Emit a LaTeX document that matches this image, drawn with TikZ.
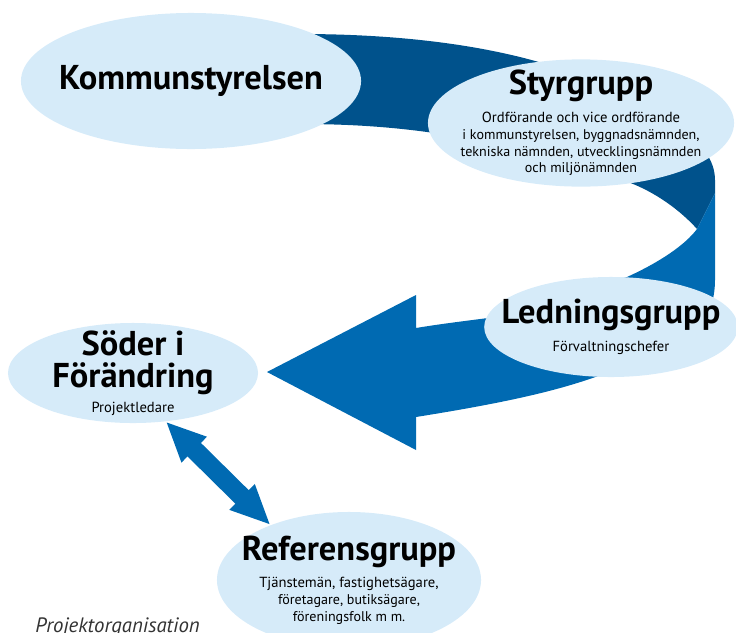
\documentclass[tikz,border=0pt]{standalone}
\usepackage{fontspec}
\setmainfont{PT Sans}
\usepackage{tikz}
\usetikzlibrary{shapes.geometric,arrows.meta}

\definecolor{ribbondark}{RGB}{0,82,140}
\definecolor{ribbonblue}{RGB}{0,106,178}
\definecolor{grpfill}{RGB}{214,235,249}

\newcommand{\grptitle}[1]{{\fontsize{24.5}{21}\selectfont\bfseries #1}}
\newcommand{\grpnote}{\fontsize{10.4}{12.3}\selectfont}

\begin{document}
\begin{tikzpicture}[x=0.025cm, y=-0.025cm,
    grp/.style={ellipse, fill=grpfill, inner sep=-14pt, align=center}]
        \useasboundingbox (0,0) rectangle (736,632);

        \fill [ribbondark]  (300,34) .. controls (420,34) and (520,50) .. (590,80)
                            .. controls (660,110) and (715,140) .. (715,180) -- (715,193)
                            -- (697,229) .. controls (680,210) and (655,192) .. (628,182)
                            -- (560,150) -- (427,132) .. controls (390,127) and (350,124) .. (300,124) -- cycle;
        \fill [ribbonblue]  (715,193) -- (715,280) .. controls (715,340) and (660,360) .. (601,375)
                            .. controls (560,390) and (510,402) .. (416,417) -- (416,450) -- (267,372)
                            -- (416,295) -- (416,328) .. controls (440,324) and (465,321) .. (488,318)
                            -- (627,277) .. controls (660,262) and (685,245) .. (697,229) -- cycle;

        \node [grp, minimum width=8.5cm, minimum height=3.4cm]    (kommun)   at (191,81)  {\grptitle{Kommunstyrelsen}};
        \node [grp, minimum width=7.65cm, minimum height=3.18cm]  (styr)     at (581,123) {\grptitle{Styrgrupp}\\[6pt]
            \grpnote Ordförande och vice ordförande\\ i kommunstyrelsen, byggnadsnämnden,\\ tekniska nämnden, utvecklingsnämnden\\ och miljönämnden};
        \node [grp, minimum width=6.25cm, minimum height=2.5cm]   (ledning)  at (611,327) {\grptitle{Ledningsgrupp}\\[6pt]
            \grpnote Förvaltningschefer};
        \node [grp, minimum width=6.25cm, minimum height=2.5cm]   (soder)    at (133,373) {\grptitle{Söder i}\\[4pt] \grptitle{Förändring}\\[4pt]
            \grpnote Projektledare};
        \node [grp, minimum width=6.6cm, minimum height=3.4cm]    (referens) at (349,580) {\grptitle{Referensgrupp}\\[6pt]
            \grpnote Tjänstemän, fastighetsägare,\\ företagare, butiksägare,\\ föreningsfolk m m.};

        \draw [ribbonblue, line width=0.475cm, {Triangle[length=1cm, width=0.825cm]}-{Triangle[length=1cm, width=0.825cm]}]
            (soder.-56) -- (referens.145);

        \node [anchor=base west, inner sep=0pt, text=black!80, font=\itshape\fontsize{14.8}{16}\selectfont] (caption) at (35,632) {Projektorganisation};
\end{tikzpicture}
\end{document}
